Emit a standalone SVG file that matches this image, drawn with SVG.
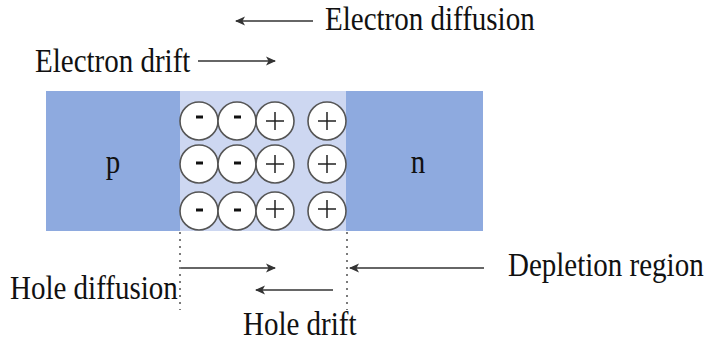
<svg xmlns="http://www.w3.org/2000/svg" width="708" height="341" viewBox="0 0 708 341">
<defs>
<marker id="ah" markerWidth="10" markerHeight="10" refX="9" refY="5" orient="auto" markerUnits="userSpaceOnUse">
<path d="M0,0.5 L10,5 L0,9.5 L2.5,5 Z" fill="#333"/>
</marker>
</defs>
<style>
.lbl{font-family:"Liberation Serif","Times New Roman",serif;font-size:29px;fill:#111}
.ion{fill:#fff;stroke:#555;stroke-width:1.6}
.minus{stroke:#111;stroke-width:3}
.plus{stroke:#222;stroke-width:1.5}
.arr{stroke:#333;stroke-width:1.6;fill:none;marker-end:url(#ah)}
.dot{stroke:#444;stroke-width:1.4;stroke-dasharray:2 5;fill:none}
</style>
<rect width="708" height="341" fill="#fff"/>
<g id="p-region"><rect x="46" y="91" width="134" height="140" fill="#8eaadf"/><text class="lbl" transform="translate(113,173) scale(1,1.13)" text-anchor="middle">p</text></g>
<g id="depletion"><rect x="180" y="91" width="166" height="140" fill="#cdd7f1"/></g>
<g id="n-region"><rect x="346" y="91" width="137" height="140" fill="#8eaadf"/><text class="lbl" transform="translate(418,173) scale(1,1.13)" text-anchor="middle">n</text></g>
<g id="ions">
<g id="row1">
<circle class="ion" cx="199" cy="121" r="19"/><circle class="ion" cx="237" cy="121" r="19"/><circle class="ion" cx="275" cy="121" r="19"/><circle class="ion" cx="327" cy="121" r="19"/>
<line class="minus" x1="196" y1="117" x2="203" y2="117"/><line class="minus" x1="234" y1="117" x2="241" y2="117"/>
<path class="plus" d="M266,121h18M275,112v18M318,121h18M327,112v18"/>
</g>
<g id="row2">
<circle class="ion" cx="199" cy="164" r="19"/><circle class="ion" cx="237" cy="164" r="19"/><circle class="ion" cx="275" cy="164" r="19"/><circle class="ion" cx="327" cy="164" r="19"/>
<line class="minus" x1="196" y1="163" x2="203" y2="163"/><line class="minus" x1="234" y1="163" x2="241" y2="163"/>
<path class="plus" d="M266,164h18M275,155v18M318,164h18M327,155v18"/>
</g>
<g id="row3">
<circle class="ion" cx="199" cy="211" r="19"/><circle class="ion" cx="237" cy="211" r="19"/><circle class="ion" cx="275" cy="211" r="19"/><circle class="ion" cx="327" cy="211" r="19"/>
<line class="minus" x1="196" y1="210" x2="203" y2="210"/><line class="minus" x1="234" y1="210" x2="241" y2="210"/>
<path class="plus" d="M266,209h18M275,200v18M318,209h18M327,200v18"/>
</g>
</g>
<g id="connectors">
<line class="dot" x1="180" y1="232" x2="180" y2="310"/>
<line class="dot" x1="347" y1="232" x2="347" y2="310"/>
<line class="arr" x1="313" y1="21" x2="236" y2="21"/>
<line class="arr" x1="198" y1="61" x2="275" y2="61"/>
<line class="arr" x1="181" y1="268" x2="275" y2="268"/>
<line class="arr" x1="333" y1="290" x2="256" y2="290"/>
<line class="arr" x1="484" y1="268" x2="350" y2="268"/>
</g>
<g id="labels">
<text class="lbl" transform="translate(325,30) scale(1,1.13)">Electron diffusion</text>
<text class="lbl" transform="translate(35,72) scale(1,1.13)">Electron drift</text>
<text class="lbl" transform="translate(10,299) scale(1,1.13)">Hole diffusion</text>
<text class="lbl" transform="translate(243,335) scale(1,1.13)">Hole drift</text>
<text class="lbl" transform="translate(508,276) scale(1,1.13)">Depletion region</text>
</g>
</svg>
